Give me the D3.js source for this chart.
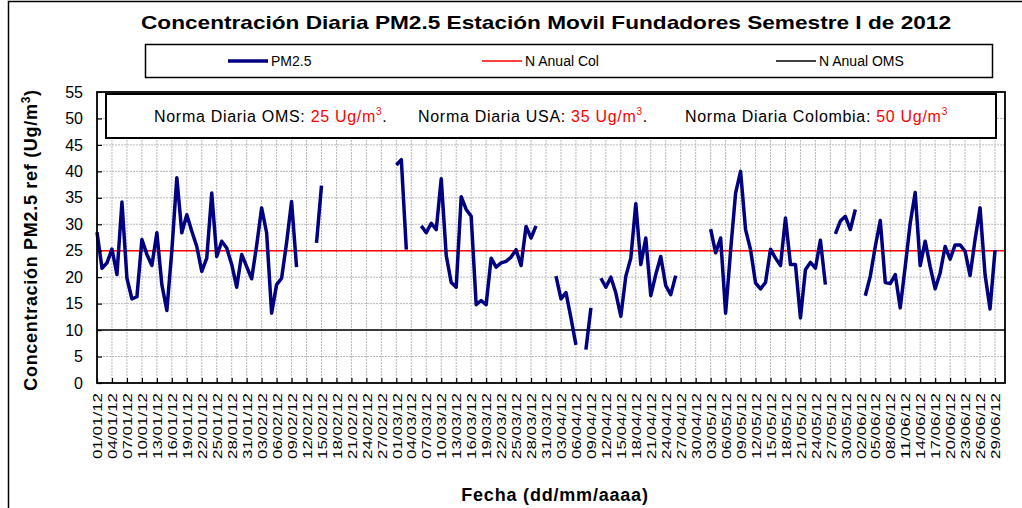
<!DOCTYPE html>
<html>
<head>
<meta charset="utf-8">
<script src="https://cdn.jsdelivr.net/npm/d3@7"></script>
<style>
  body { margin: 0; background: #fff; }
  svg { display: block; font-family: Arial, "Liberation Sans", sans-serif; }
</style>
</head>
<body>
<svg width="1022" height="508"></svg>
<script>
// daily PM2.5, 01/01/2012 .. 30/06/2012 (null = no data)
const pm25 = [
  28.5, 21.7, 22.7, 25.3, 20.5, 34.2, 19.8, 15.9, 16.3, 27.1,
  24.3, 22.2, 28.4, 18.6, 13.7, 25.0, 38.8, 28.4, 31.8, 28.7,
  25.8, 21.1, 23.6, 35.9, 23.9, 26.8, 25.5, 22.4, 18.1, 24.3,
  22.0, 19.7, 26.0, 33.1, 28.4, 13.2, 18.6, 19.8, 26.5, 34.3,
  21.9, null, null, null, 26.5, 37.3, null, null, null, null,
  null, null, null, null, null, null, null, null, null, null,
  41.2, 42.2, 25.2, null, null, 29.7, 28.4, 30.2, 29.0, 38.6,
  24.1, 19.0, 18.1, 35.2, 32.8, 31.5, 14.8, 15.6, 14.8, 23.6,
  21.9, 22.7, 23.0, 23.8, 25.2, 22.2, 29.6, 27.4, 29.7, null,
  null, null, 20.2, 15.9, 17.1, 12.3, 7.2, null, 6.3, 14.2,
  null, 19.8, 18.1, 20.0, 17.0, 12.6, 20.2, 23.6, 33.9, 22.4,
  27.4, 16.5, 20.5, 23.9, 18.4, 16.7, 20.3, null, null, null,
  null, null, null, 29.1, 24.6, 27.4, 13.2, 25.0, 35.9, 40.0,
  29.0, 25.2, 18.9, 17.8, 19.0, 25.3, 23.6, 22.2, 31.2, 22.4,
  22.4, 12.3, 21.4, 22.8, 21.7, 27.0, 18.6, null, 28.2, 30.6,
  31.5, 29.0, 32.8, null, 16.5, 20.2, 25.8, 30.7, 19.0, 18.8,
  20.5, 14.2, 22.0, 30.2, 36.0, 22.2, 26.8, 22.0, 17.8, 20.8,
  25.8, 23.4, 26.1, 26.1, 24.9, 20.3, 27.1, 33.1, 20.5, 14.0,
  25.1, null
];

const tickLabels = [
  "01/01/12", "04/01/12", "07/01/12", "10/01/12", "13/01/12", "16/01/12",
  "19/01/12", "22/01/12", "25/01/12", "28/01/12", "31/01/12", "03/02/12",
  "06/02/12", "09/02/12", "12/02/12", "15/02/12", "18/02/12", "21/02/12",
  "24/02/12", "27/02/12", "01/03/12", "04/03/12", "07/03/12", "10/03/12",
  "13/03/12", "16/03/12", "19/03/12", "22/03/12", "25/03/12", "28/03/12",
  "31/03/12", "03/04/12", "06/04/12", "09/04/12", "12/04/12", "15/04/12",
  "18/04/12", "21/04/12", "24/04/12", "27/04/12", "30/04/12", "03/05/12",
  "06/05/12", "09/05/12", "12/05/12", "15/05/12", "18/05/12", "21/05/12",
  "24/05/12", "27/05/12", "30/05/12", "02/06/12", "05/06/12", "08/06/12",
  "11/06/12", "14/06/12", "17/06/12", "20/06/12", "23/06/12", "26/06/12",
  "29/06/12"
];

const yTicks = [0, 5, 10, 15, 20, 25, 30, 35, 40, 45, 50, 55];
const normaAnualCol = 25;
const normaAnualOMS = 10;
const normasDiarias = [
  { label: "Norma Diaria OMS: ", value: "25", end: "." },
  { label: "Norma Diaria USA: ", value: "35", end: "." },
  { label: "Norma Diaria Colombia: ", value: "50", end: "" }
];

const svg = d3.select("svg");
const plot = { left: 97, right: 1005, top: 92, bottom: 383 };

const x = d3.scaleLinear().domain([0, pm25.length]).range([plot.left, plot.right]);
const y = d3.scaleLinear().domain([0, 55]).range([plot.bottom, plot.top]);
const tickIdx = tickLabels.map((d, i) => i * 3);

// outer frame (only left and top visible)
svg.append("path")
  .attr("d", "M8.5,508V1.5H1022")
  .attr("fill", "none")
  .attr("stroke", "#000")
  .attr("stroke-width", 1.5);

// title
svg.append("text")
  .attr("x", 546)
  .attr("y", 29)
  .attr("text-anchor", "middle")
  .attr("font-weight", "bold")
  .attr("font-size", 19)
  .attr("textLength", 810)
  .attr("lengthAdjust", "spacingAndGlyphs")
  .text("Concentración Diaria PM2.5 Estación Movil Fundadores Semestre I de 2012");

// legend
const legend = svg.append("g");
legend.append("rect")
  .attr("x", 145.5).attr("y", 44.5).attr("width", 847).attr("height", 33)
  .attr("fill", "#fff").attr("stroke", "#000").attr("stroke-width", 1.5);

const legendItems = [
  { name: "PM2.5", color: "#000080", w: 3.5, x: 228 },
  { name: "N Anual Col", color: "#ff0000", w: 1.5, x: 482 },
  { name: "N Anual OMS", color: "#000000", w: 1.5, x: 776 }
];
legend.selectAll("g.item")
  .data(legendItems)
  .join("g")
  .attr("class", "item")
  .each(function (d) {
    const g = d3.select(this);
    g.append("line")
      .attr("x1", d.x).attr("x2", d.x + 40)
      .attr("y1", 61).attr("y2", 61)
      .attr("stroke", d.color).attr("stroke-width", d.w);
    g.append("text")
      .attr("x", d.x + 43).attr("y", 66)
      .attr("font-size", 14)
      .text(d.name);
  });

// grid
const grid = svg.append("g")
  .attr("stroke", "#b8b8b8")
  .attr("stroke-width", 1)
  .attr("stroke-dasharray", "2,1");
grid.selectAll("line.v")
  .data(tickIdx.slice(1))
  .join("line")
  .attr("class", "v")
  .attr("x1", (d) => x(d)).attr("x2", (d) => x(d))
  .attr("y1", plot.top).attr("y2", plot.bottom);
grid.selectAll("line.h")
  .data(yTicks.slice(1))
  .join("line")
  .attr("class", "h")
  .attr("x1", plot.left).attr("x2", plot.right)
  .attr("y1", (d) => y(d)).attr("y2", (d) => y(d));

// reference lines
svg.append("line")
  .attr("x1", plot.left).attr("x2", plot.right)
  .attr("y1", y(normaAnualOMS)).attr("y2", y(normaAnualOMS))
  .attr("stroke", "#000").attr("stroke-width", 1.5);
svg.append("line")
  .attr("x1", plot.left).attr("x2", plot.right)
  .attr("y1", y(normaAnualCol)).attr("y2", y(normaAnualCol))
  .attr("stroke", "#ff0000").attr("stroke-width", 1.5);

// PM2.5 series
const line = d3.line()
  .defined((d) => d !== null)
  .x((d, i) => x(i))
  .y((d) => y(d));
svg.append("path")
  .datum(pm25)
  .attr("fill", "none")
  .attr("stroke", "#000080")
  .attr("stroke-width", 3.5)
  .attr("stroke-linejoin", "round")
  .attr("d", line);

// daily norms box
const normBox = svg.append("g");
normBox.append("rect")
  .attr("x", 106).attr("y", 94).attr("width", 890).attr("height", 44)
  .attr("fill", "#fff").attr("stroke", "#000").attr("stroke-width", 2);
const normX = [154, 418, 685];
normasDiarias.forEach((n, i) => {
  const t = normBox.append("text")
    .attr("x", normX[i]).attr("y", 122)
    .attr("font-size", 16)
    .attr("letter-spacing", 0.7);
  t.append("tspan").text(n.label);
  t.append("tspan").attr("fill", "#ff0000").text(n.value + " Ug/m");
  t.append("tspan").attr("fill", "#ff0000").attr("font-size", 10).attr("dy", -7).text("3");
  t.append("tspan").attr("dy", 7).text(n.end);
});

// axes
const yAxis = svg.append("g")
  .attr("transform", `translate(${plot.left},0)`)
  .call(d3.axisLeft(y).tickValues(yTicks).tickSize(-5).tickPadding(14));
yAxis.select(".domain").remove();
yAxis.selectAll("text").attr("font-size", 16).attr("fill", "#000");
yAxis.selectAll("line").attr("stroke", "#000").attr("stroke-width", 1.2);

const xAxis = svg.append("g")
  .attr("transform", `translate(0,${plot.bottom})`)
  .call(
    d3.axisBottom(x)
      .tickValues(tickIdx)
      .tickSize(-5)
      .tickFormat((d, i) => tickLabels[i])
  );
xAxis.select(".domain").remove();
xAxis.selectAll("line").attr("stroke", "#000").attr("stroke-width", 1.2);
xAxis.selectAll("text")
  .attr("font-size", 13)
  .attr("fill", "#000")
  .attr("text-anchor", "end")
  .attr("transform", "rotate(-90)")
  .attr("x", -10)
  .attr("y", 0)
  .attr("dy", "0.36em")
  .attr("textLength", 66)
  .attr("lengthAdjust", "spacingAndGlyphs");

// plot frame
svg.append("rect")
  .attr("x", plot.left).attr("y", plot.top)
  .attr("width", plot.right - plot.left).attr("height", plot.bottom - plot.top)
  .attr("fill", "none").attr("stroke", "#000").attr("stroke-width", 1.8);

// axis titles
const yTitle = svg.append("text")
  .attr("transform", "translate(37,240) rotate(-90)")
  .attr("text-anchor", "middle")
  .attr("font-weight", "bold")
  .attr("font-size", 18)
  .attr("letter-spacing", 0.7);
yTitle.append("tspan").text("Concentración PM2.5 ref (Ug/m");
yTitle.append("tspan").attr("font-size", 12).attr("dy", -7).text("3");
yTitle.append("tspan").attr("dy", 7).text(")");

svg.append("text")
  .attr("x", 555).attr("y", 501)
  .attr("text-anchor", "middle")
  .attr("font-weight", "bold")
  .attr("font-size", 18)
  .attr("letter-spacing", 0.8)
  .text("Fecha (dd/mm/aaaa)");
</script>
</body>
</html>
